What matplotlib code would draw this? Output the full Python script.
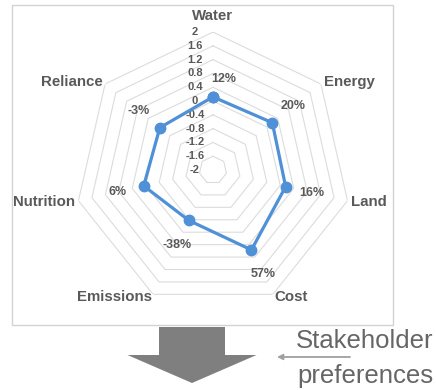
import numpy as np
import matplotlib
matplotlib.use('Agg')
import matplotlib.pyplot as plt
from matplotlib.patches import FancyArrow, Rectangle

plt.rcParams['font.family'] = ['Liberation Sans', 'DejaVu Sans']

categories = ['Water', 'Energy', 'Land', 'Cost', 'Emissions', 'Nutrition', 'Reliance']
values = [0.12, 0.20, 0.16, 0.57, -0.38, 0.06, -0.03]
value_labels = ['12%', '20%', '16%', '57%', '-38%', '6%', '-3%']
ticks = [-2, -1.6, -1.2, -0.8, -0.4, 0, 0.4, 0.8, 1.2, 1.6, 2]
tick_labels = ['-2', '-1.6', '-1.2', '-0.8', '-0.4', '0', '0.4', '0.8', '1.2', '1.6', '2']

blue = '#4F90D6'
grey_txt = '#595959'

fig = plt.figure(figsize=(4.36, 3.9), dpi=100)

# background layer in pixel coords: frame, big arrow, side note
bg = fig.add_axes([0, 0, 1, 1])
bg.set_xlim(0, 436)
bg.set_ylim(390, 0)
bg.axis('off')
bg.add_patch(Rectangle((12, 5), 381, 320, fill=False, ec='#d3d3d3', lw=1))
bg.add_patch(FancyArrow(192, 327, 0, 56, width=66, head_width=129, head_length=28,
                        length_includes_head=True, color='#7f7f7f', lw=0))
bg.annotate('', xy=(277, 357), xytext=(350, 357),
            arrowprops=dict(arrowstyle='-|>', color='#a0a0a0', lw=1.3,
                            mutation_scale=8, shrinkA=0, shrinkB=0))
bg.text(296, 348, 'Stakeholder', fontsize=18.5, color='#666666', va='baseline', ha='left')
bg.text(297, 383, 'preferences', fontsize=18.5, color='#666666', va='baseline', ha='left')

ax = fig.add_axes([0.172, 0.210, 0.633, 0.708], projection='polar')
ax.set_theta_zero_location('N')
ax.set_theta_direction(-1)
ax.set_ylim(-2, 2)
ax.grid(False)
ax.set_xticks([])
ax.set_yticks([])
ax.spines['polar'].set_visible(False)
ax.patch.set_alpha(0)

n = len(categories)
angles = np.linspace(0, 2 * np.pi, n, endpoint=False)
closed = np.append(angles, angles[0])

# heptagon grid
for t in ticks[1:]:
    ax.plot(closed, [t] * (n + 1), color='#dcdcdc', lw=0.8, zorder=1)

# radial scale labels along the Water axis
for t, lab in zip(ticks, tick_labels):
    ax.annotate(lab, xy=(0, t), xytext=(-13, 0), textcoords='offset points',
                ha='center', va='center', fontsize=8, fontweight='bold', color=grey_txt)

# series
ax.plot(closed, values + values[:1], color=blue, lw=2.3, marker='o', ms=7.5, zorder=3)

# value labels
for i, (a, v, lab) in enumerate(zip(angles, values, value_labels)):
    dx, dy = 19.5 * np.sin(a), 19.5 * np.cos(a)
    if i == 0:
        dx, dy = 8, 13
    ax.annotate(lab, xy=(a, v), xytext=(dx, dy), textcoords='offset points',
                ha='center', va='center', fontsize=9, fontweight='bold', color=grey_txt)

# category labels
for a, c in zip(angles, categories):
    s = np.sin(a)
    if abs(s) < 1e-6:
        ha, va, r = 'center', 'bottom', 2.25
    else:
        ha, va, r = ('left' if s > 0 else 'right'), 'center', 2.1
    ax.text(a, r, c, ha=ha, va=va, fontsize=10.8, fontweight='bold', color=grey_txt)

fig.savefig('out.png', dpi=100)
